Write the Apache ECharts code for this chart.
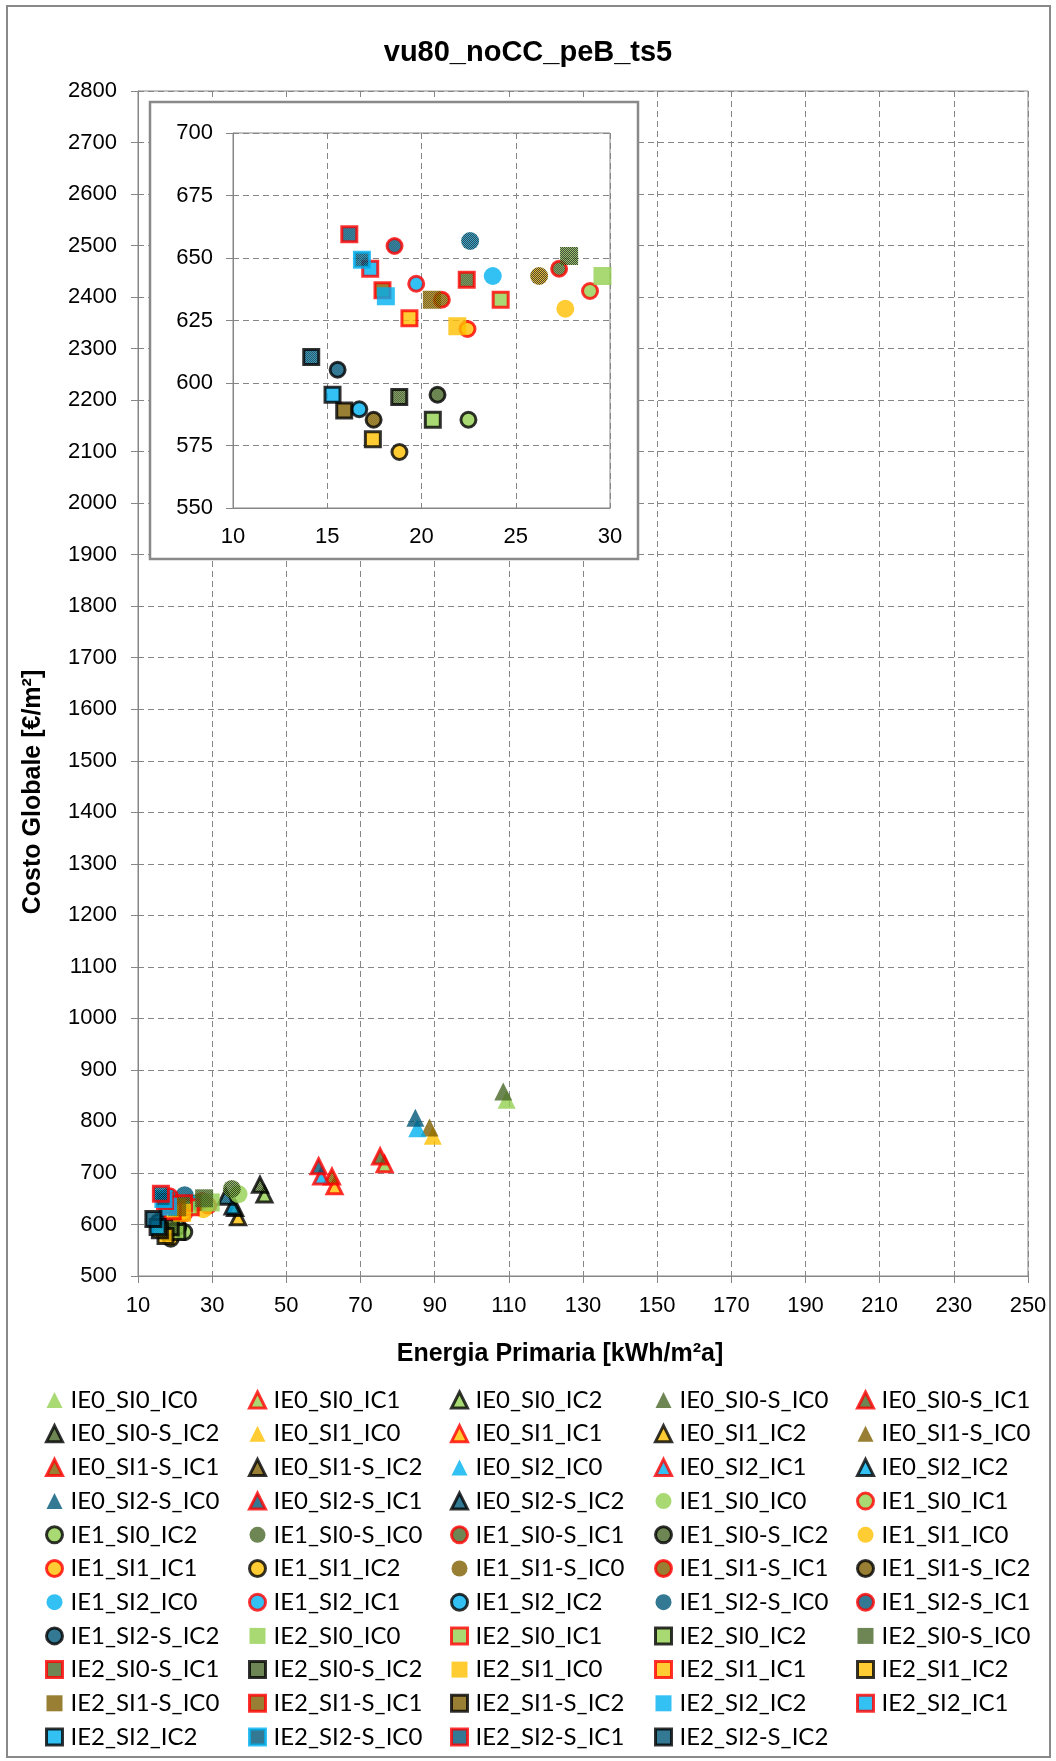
<!DOCTYPE html>
<html>
<head>
<meta charset="utf-8">
<title>vu80_noCC_peB_ts5</title>
<script src="https://cdn.jsdelivr.net/npm/echarts@6/dist/echarts.min.js"></script>
<style>
  html, body { margin: 0; padding: 0; background: #fff; }
  #chart { width: 1056px; height: 1761px; }
</style>
</head>
<body>
<div id="chart"></div>
<script>
// nomi delle serie (ordine della legenda)
const names = [
  'IE0_SI0_IC0', 'IE0_SI0_IC1', 'IE0_SI0_IC2', 'IE0_SI0-S_IC0', 'IE0_SI0-S_IC1',
  'IE0_SI0-S_IC2', 'IE0_SI1_IC0', 'IE0_SI1_IC1', 'IE0_SI1_IC2', 'IE0_SI1-S_IC0',
  'IE0_SI1-S_IC1', 'IE0_SI1-S_IC2', 'IE0_SI2_IC0', 'IE0_SI2_IC1', 'IE0_SI2_IC2',
  'IE0_SI2-S_IC0', 'IE0_SI2-S_IC1', 'IE0_SI2-S_IC2', 'IE1_SI0_IC0', 'IE1_SI0_IC1',
  'IE1_SI0_IC2', 'IE1_SI0-S_IC0', 'IE1_SI0-S_IC1', 'IE1_SI0-S_IC2', 'IE1_SI1_IC0',
  'IE1_SI1_IC1', 'IE1_SI1_IC2', 'IE1_SI1-S_IC0', 'IE1_SI1-S_IC1', 'IE1_SI1-S_IC2',
  'IE1_SI2_IC0', 'IE1_SI2_IC1', 'IE1_SI2_IC2', 'IE1_SI2-S_IC0', 'IE1_SI2-S_IC1',
  'IE1_SI2-S_IC2', 'IE2_SI0_IC0', 'IE2_SI0_IC1', 'IE2_SI0_IC2', 'IE2_SI0-S_IC0',
  'IE2_SI0-S_IC1', 'IE2_SI0-S_IC2', 'IE2_SI1_IC0', 'IE2_SI1_IC1', 'IE2_SI1_IC2',
  'IE2_SI1-S_IC0', 'IE2_SI1-S_IC1', 'IE2_SI1-S_IC2', 'IE2_SI2_IC2', 'IE2_SI2_IC1',
  'IE2_SI2_IC2 ', 'IE2_SI2-S_IC0', 'IE2_SI2-S_IC1', 'IE2_SI2-S_IC2'
];
// Energia Primaria [kWh/m2a]
const energia = [
  109.4, 76.5, 44.1, 108.5, 75.3,
  42.9, 89.5, 63.0, 37.0, 88.6,
  62.3, 36.2, 85.3, 59.4, 35.5,
  84.8, 58.7, 33.7, 37.1, 28.94,
  22.49, 35.3, 27.3, 20.85, 27.63,
  22.44, 18.83, 26.24, 21.08, 17.46,
  23.78, 19.72, 16.7, 22.58, 18.57,
  15.55, 29.6, 24.2, 20.6, 27.83,
  22.4, 18.82, 21.9, 19.36, 17.42,
  20.55, 17.93, 15.9, 18.11, 17.28,
  15.28, 16.84, 16.17, 14.15
];
// Costo Globale [€/m2]
const costo = [
  842, 717, 658, 858, 732,
  677, 772, 674, 614, 788,
  693, 632, 787, 693, 635,
  807, 713, 654, 659, 636.8,
  585.3, 669, 645.7, 595.3, 629.7,
  621.6, 572.4, 642.8, 633.3, 585.3,
  642.8, 639.7, 589.5, 656.8, 654.8,
  605.3, 642.8, 633.3, 585.3, 650.8,
  641.3, 594.4, 622.7, 625.9, 577.5,
  633.3, 637.1, 589, 634.7, 645.7,
  595.3, 649.3, 659.5, 610.4
];

// tacche
const mainX = { min: 10, max: 250, step: 20 };
const mainY = { min: 500, max: 2800, step: 100 };
const zoomX = { min: 10, max: 30, step: 5 };
const zoomY = { min: 550, max: 700, step: 25 };

const baseColor = { SI0: '#92D050', SI1: '#FFC000', SI2: '#00B0F0' };
const simboli = { IE0: 'triangle', IE1: 'circle', IE2: 'rect' };
const bordi = { IC0: null, IC1: '#FF0000', IC2: '#000000' };
const grigio = '#868686';
const font = '"Liberation Sans", Arial, sans-serif';

// retino 50% (nero + colore base); k = scala del simbolo
function retino(col, k) {
  let c = document.createElement('canvas');
  c.width = 2; c.height = 2;
  let g = c.getContext('2d');
  g.fillStyle = col; g.fillRect(0, 0, 2, 2);
  g.fillStyle = '#000'; g.fillRect(0, 0, 1, 1); g.fillRect(1, 1, 1, 1);
  return { image: c, repeat: 'repeat', scaleX: 1 / k, scaleY: 1 / k };
}

function stile(name) {
  let p = name.trim().split('_');
  let si = p[1].replace('-S', '');
  let bordo = bordi[p[2]];
  if (name === 'IE2_SI2_IC2') bordo = null;            // in legenda senza bordo
  if (name === 'IE2_SI2-S_IC0') bordo = baseColor.SI2;  // bordo azzurro
  let size = bordo ? 15 : 18;
  let pat = p[1].indexOf('-S') > 0;
  return {
    symbol: simboli[p[0]],
    symbolSize: size,
    legendFill: pat ? retino(baseColor[si], 1) : baseColor[si],
    itemStyle: {
      color: pat ? retino(baseColor[si], size / 2) : baseColor[si],
      borderColor: bordo || 'transparent', borderWidth: bordo ? 3 : 0
    }
  };
}

function etichetta(m) {
  return { fontFamily: font, fontSize: 22, color: '#000', margin: m, formatter: function (v) { return String(v); } };
}

function asse(r, extra) {
  return Object.assign({
    type: 'value', min: r.min, max: r.max, interval: r.step,
    axisLine: { show: true, onZero: false, lineStyle: { color: grigio, width: 1 } },
    axisTick: { show: true, length: 7, lineStyle: { color: grigio } },
    splitLine: { show: true, lineStyle: { color: grigio, type: [6, 4], width: 1 } }
  }, extra);
}

let series = [];
[0, 1].forEach(function (g) {
  names.forEach(function (n, i) {
    let s = stile(n);
    series.push({
      type: 'scatter', name: n, xAxisIndex: g, yAxisIndex: g,
      symbol: s.symbol, symbolSize: s.symbolSize, itemStyle: s.itemStyle,
      data: [[energia[i], costo[i]]],
      z: g ? 7 : 2, clip: true, emphasis: { disabled: true }
    });
  });
});

// legenda: 5 colonne
const colX = [45, 248, 450, 654, 856];
let legende = colX.map(function (x, c) {
  return {
    orient: 'vertical', left: x, top: 1388, padding: 0,
    itemWidth: 16, itemHeight: 16, itemGap: 9.7,
    itemStyle: { borderWidth: 'inherit' },
    data: names.filter(function (n, i) { return i % 5 === c; }).map(function (n) {
      return { name: n, itemStyle: { color: stile(n).legendFill } };
    }),
    formatter: function (n) { return n.trim(); },
    textStyle: { fontFamily: 'Lato', fontSize: 24, lineHeight: 24, color: '#000', padding: [0, 0, 0, 3] }
  };
});

let myChart = echarts.init(document.getElementById('chart'));
let option = {
  animation: false,
  backgroundColor: '#fff',
  title: {
    text: 'vu80_noCC_peB_ts5', left: 'center', top: 33,
    textStyle: { fontFamily: font, fontWeight: 'bold', fontSize: 29, color: '#000' }
  },
  grid: [
    { left: 138, top: 91, width: 890, height: 1185, show: true, borderColor: grigio, borderWidth: 1 },
    { left: 233, top: 133, width: 377, height: 375, show: true, borderColor: grigio, borderWidth: 1, z: 6 }
  ],
  xAxis: [
    asse(mainX, { gridIndex: 0, axisLabel: etichetta(19) }),
    asse(zoomX, { gridIndex: 1, z: 6, axisTick: { show: false }, axisLabel: etichetta(18) })
  ],
  yAxis: [
    asse(mainY, { gridIndex: 0, axisLabel: etichetta(21) }),
    asse(zoomY, { gridIndex: 1, z: 6, axisLabel: etichetta(20) })
  ],
  legend: legende,
  graphic: [
    { type: 'rect', z: 10, silent: true, shape: { x: 7, y: 6, width: 1043, height: 1751 },
      style: { fill: null, stroke: '#898989', lineWidth: 2 } },
    { type: 'rect', z: 5, silent: true, shape: { x: 150, y: 102, width: 488, height: 457 },
      style: { fill: '#fff', stroke: '#898989', lineWidth: 2.5 } },
    { type: 'text', z: 10, x: 560, y: 1354,
      style: { text: 'Energia Primaria [kWh/m²a]', font: 'bold 25px ' + font, fill: '#000', align: 'center', verticalAlign: 'middle' } },
    { type: 'text', z: 10, x: 33, y: 792, rotation: Math.PI / 2,
      style: { text: 'Costo Globale [€/m²]', font: 'bold 25px ' + font, fill: '#000', align: 'center', verticalAlign: 'middle' } }
  ],
  series: series
};
myChart.setOption(option);
</script>
</body>
</html>
